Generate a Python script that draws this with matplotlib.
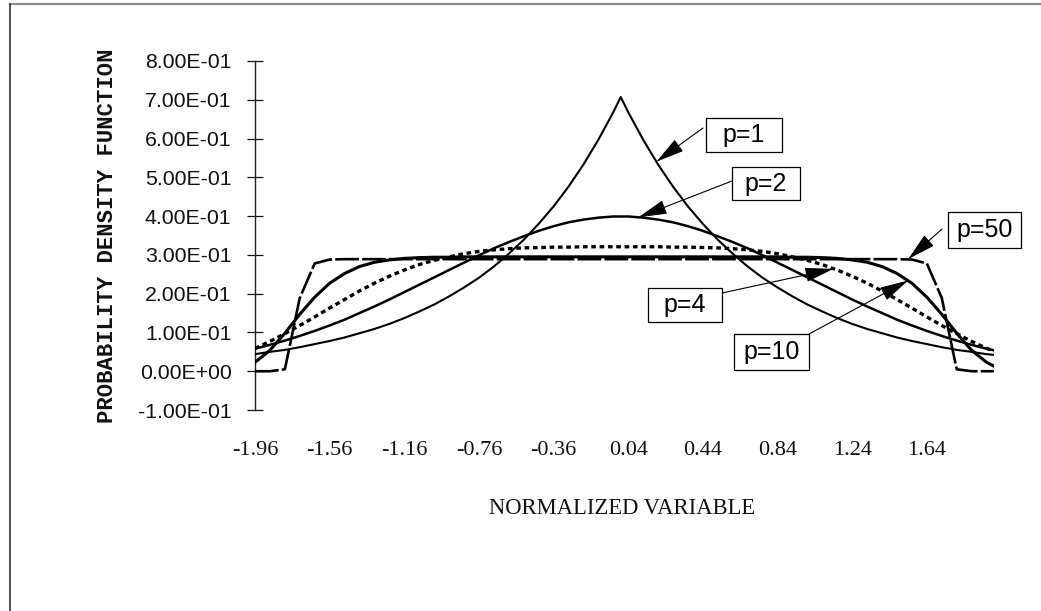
import matplotlib
matplotlib.use("Agg")
import matplotlib.pyplot as plt
from matplotlib.patches import Rectangle
from matplotlib.lines import Line2D
from matplotlib.ticker import FuncFormatter, FixedLocator

# ---------------- data ----------------
x_values = [-1.96, -1.88, -1.80, -1.72, -1.64, -1.56, -1.48, -1.40, -1.32, -1.24,
            -1.16, -1.08, -1.00, -0.92, -0.84, -0.76, -0.68, -0.60, -0.52, -0.44,
            -0.36, -0.28, -0.20, -0.12, -0.04, 0.00,
            0.04, 0.12, 0.20, 0.28, 0.36, 0.44, 0.52, 0.60, 0.68, 0.76,
            0.84, 0.92, 1.00, 1.08, 1.16, 1.24, 1.32, 1.40, 1.48, 1.56,
            1.64, 1.72, 1.80, 1.88, 1.96, 2.00]

pdf_p1 = [0.044, 0.050, 0.055, 0.062, 0.070, 0.078, 0.087, 0.098, 0.109, 0.122,
          0.137, 0.154, 0.172, 0.193, 0.216, 0.241, 0.270, 0.303, 0.339, 0.380,
          0.425, 0.476, 0.533, 0.597, 0.668, 0.707,
          0.668, 0.597, 0.533, 0.476, 0.425, 0.380, 0.339, 0.303, 0.270, 0.241,
          0.216, 0.193, 0.172, 0.154, 0.137, 0.122, 0.109, 0.098, 0.087, 0.078,
          0.070, 0.062, 0.055, 0.050, 0.044, 0.042]

pdf_p2 = [0.058, 0.068, 0.079, 0.091, 0.104, 0.118, 0.133, 0.150, 0.167, 0.185,
          0.204, 0.223, 0.242, 0.261, 0.280, 0.299, 0.317, 0.333, 0.348, 0.362,
          0.374, 0.384, 0.391, 0.396, 0.399, 0.399,
          0.399, 0.396, 0.391, 0.384, 0.374, 0.362, 0.348, 0.333, 0.317, 0.299,
          0.280, 0.261, 0.242, 0.223, 0.204, 0.185, 0.167, 0.150, 0.133, 0.118,
          0.104, 0.091, 0.079, 0.068, 0.058, 0.054]

pdf_p4 = [0.059, 0.077, 0.097, 0.118, 0.140, 0.163, 0.185, 0.207, 0.227, 0.245,
          0.261, 0.275, 0.286, 0.295, 0.303, 0.309, 0.313, 0.316, 0.318, 0.319,
          0.320, 0.320, 0.321, 0.321, 0.321, 0.321,
          0.321, 0.321, 0.321, 0.320, 0.320, 0.319, 0.318, 0.316, 0.313, 0.309,
          0.303, 0.295, 0.286, 0.275, 0.261, 0.245, 0.227, 0.207, 0.185, 0.163,
          0.140, 0.118, 0.097, 0.077, 0.059, 0.052]

pdf_p10 = [0.023, 0.054, 0.098, 0.147, 0.191, 0.227, 0.252, 0.270, 0.281, 0.287,
           0.291, 0.293, 0.294, 0.294, 0.295, 0.295, 0.295, 0.295, 0.295, 0.295,
           0.295, 0.295, 0.295, 0.295, 0.295, 0.295,
           0.295, 0.295, 0.295, 0.295, 0.295, 0.295, 0.295, 0.295, 0.295, 0.295,
           0.295, 0.294, 0.294, 0.293, 0.291, 0.287, 0.281, 0.270, 0.252, 0.227,
           0.191, 0.147, 0.098, 0.054, 0.023, 0.013]

pdf_p50 = [0.000, 0.000, 0.005, 0.189, 0.278, 0.288, 0.289, 0.289, 0.289, 0.289,
           0.289, 0.289, 0.289, 0.289, 0.289, 0.289, 0.289, 0.289, 0.289, 0.289,
           0.289, 0.289, 0.289, 0.289, 0.289, 0.289,
           0.289, 0.289, 0.289, 0.289, 0.289, 0.289, 0.289, 0.289, 0.289, 0.289,
           0.289, 0.289, 0.289, 0.289, 0.289, 0.289, 0.289, 0.289, 0.289, 0.288,
           0.278, 0.189, 0.005, 0.000, 0.000, 0.000]

x_tick_values = [-1.96, -1.56, -1.16, -0.76, -0.36, 0.04, 0.44, 0.84, 1.24, 1.64]
x_tick_labels = ["-1.96", "-1.56", "-1.16", "-0.76", "-0.36", "0.04", "0.44", "0.84", "1.24", "1.64"]
y_tick_values = [-0.1, 0.0, 0.1, 0.2, 0.3, 0.4, 0.5, 0.6, 0.7, 0.8]

series_labels = ["p=1", "p=2", "p=4", "p=10", "p=50"]
# arrow tip (data coords) for each label
arrow_tips = {"p=1": (0.19, 0.540), "p=2": (0.095, 0.397), "p=50": (1.54, 0.289),
              "p=4": (1.14, 0.264), "p=10": (1.54, 0.234)}

# ---------------- figure ----------------
W, H = 1041, 611
fig = plt.figure(figsize=(W / 100, H / 100), dpi=100)
fig.patch.set_facecolor("white")

L, R, T, B = 255, 994, 61, 410
ax = fig.add_axes([L / W, 1 - B / H, (R - L) / W, (B - T) / H])
ax.set_xlim(-1.96, 2.00)
ax.set_ylim(-0.1, 0.8)
ax.set_facecolor("none")

for s in ["top", "right", "bottom"]:
    ax.spines[s].set_visible(False)
ax.spines["left"].set_linewidth(1.0)
ax.spines["left"].set_color("#222222")

ax.yaxis.set_major_locator(FixedLocator(y_tick_values))
ax.yaxis.set_major_formatter(FuncFormatter(lambda v, p: f"{v:.2E}"))
ax.tick_params(axis="y", direction="inout", length=11, width=0.9, pad=11.5,
               labelsize=15.3, colors="#111111")
for lab in ax.get_yticklabels():
    lab.set_fontfamily("Liberation Sans")

ax.set_xticks(x_tick_values)
ax.set_xticklabels(x_tick_labels, fontfamily="Liberation Serif", fontsize=16)
ax.tick_params(axis="x", length=0, pad=22, colors="#111111")

# curves
ax.plot(x_values, pdf_p1, color="black", lw=1.5, solid_joinstyle="round", zorder=3)
ax.plot(x_values, pdf_p2, color="black", lw=1.8, solid_joinstyle="round", zorder=3)
ax.plot(x_values, pdf_p4, color="black", lw=2.4, linestyle=(0, (1.4, 1.1)),
        dash_capstyle="butt", zorder=3)
ax.plot(x_values, pdf_p10, color="black", lw=2.2, solid_joinstyle="round", zorder=3)
ax.plot(x_values, pdf_p50, color="black", lw=1.9, linestyle=(0, (9, 1.2)), zorder=3)

# label boxes (pixel geometry) and arrows
boxes = {"p=1": (706, 118, 782, 152), "p=2": (732, 167, 800, 200),
         "p=50": (948, 212, 1021, 248), "p=4": (648, 288, 722, 322),
         "p=10": (734, 334, 809, 370)}
tails = {"p=1": (703, 128), "p=2": (732, 181), "p=50": (942, 229),
         "p=4": (722, 293), "p=10": (809, 334)}

for lab in series_labels:
    x0, y0, x1, y1 = boxes[lab]
    fig.add_artist(Rectangle((x0 / W, 1 - y1 / H), (x1 - x0) / W, (y1 - y0) / H,
                             transform=fig.transFigure, facecolor="white",
                             edgecolor="black", lw=0.9, zorder=5))
    fig.text((x0 + x1) / 2 / W, 1 - (y0 + y1) / 2 / H, lab, ha="center", va="center",
             fontsize=18, fontfamily="Liberation Sans", color="black", zorder=6)
    tx, ty = tails[lab]
    ax.annotate("", xy=arrow_tips[lab], xycoords="data",
                xytext=(tx, H - ty), textcoords="figure pixels",
                arrowprops=dict(arrowstyle="-|>,head_length=1.0,head_width=0.25",
                                mutation_scale=18, lw=0.8, color="black",
                                shrinkA=0, shrinkB=0), zorder=6)

# axis titles
fig.text(108 / W, 1 - 236 / H, "PROBABILITY DENSITY FUNCTION", rotation=90,
         ha="center", va="center", fontsize=16, fontfamily="Liberation Mono",
         fontweight="bold", color="#111111")
fig.text(622 / W, 1 - 508 / H, "NORMALIZED VARIABLE", ha="center", va="center",
         fontsize=16.3, fontfamily="Liberation Serif", color="#111111")

# outer frame (top and left edges as in the scan)
fig.add_artist(Line2D([10 / W, 1.0], [1 - 3.5 / H, 1 - 3.5 / H], transform=fig.transFigure,
                      color="#8a8a8a", lw=1.5))
fig.add_artist(Line2D([9.5 / W, 9.5 / W], [0, 1 - 3.5 / H], transform=fig.transFigure,
                      color="#333333", lw=1.2))

fig.savefig("out.png", dpi=100, facecolor="white")
